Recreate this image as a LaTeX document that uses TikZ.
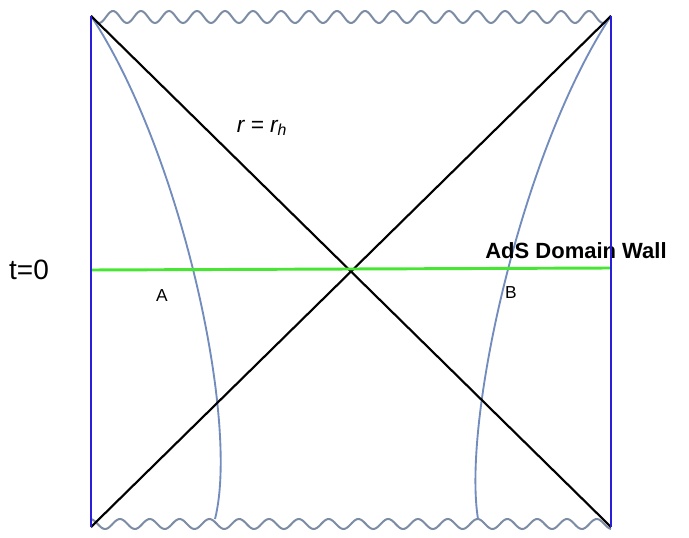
\documentclass[tikz,border=0pt]{standalone}
\usepackage{fontspec}
\setmainfont{Liberation Sans}
\usetikzlibrary{positioning}
\definecolor{wallblue}{RGB}{40,30,220}
\definecolor{slicegreen}{RGB}{70,230,50}
\definecolor{branegray}{RGB}{115,140,190}
\definecolor{wavegray}{RGB}{125,140,165}

\begin{document}
\begin{tikzpicture}[x=0.75pt, y=-0.75pt, every node/.style={inner sep=0pt}]
\tikzset{wall/.style={draw=wallblue, line width=2pt},
  horizon/.style={draw=black, line width=1.6pt},
  slice/.style={draw=slicegreen, line width=2.2pt},
  brane/.style={draw=branegray, line width=1.4pt},
  singular/.style={draw=wavegray, line width=1.5pt},
  lbl/.style={font=\fontsize{13}{15}\selectfont}}
\useasboundingbox (0,0) rectangle (689,538);
% corners of the diagram
\coordinate (tl) at (91,16);
\coordinate (tr) at (611,16);
\coordinate (bl) at (91,527);
\coordinate (br) at (611,527);
\coordinate (sl) at (91,270);
\coordinate (sr) at (611,268);
\coordinate (bA) at (215,519);
\coordinate (bB) at (478,519);
% singularities
\draw[singular] plot[domain=91:611, samples=300, smooth] (\x, {17-6*sin(12.857*(\x-113)+90)});
\draw[singular] plot[domain=91:611, samples=300, smooth] (\x, {524-5*sin(12.081*(\x-120)+90)});
% branes
\draw[brane] (tl) .. controls (180,150) and (240,420) .. (bA);
\draw[brane] (tr) .. controls (522,150) and (462,420) .. (bB);
% horizons
\draw[horizon] (tl) -- (br);
\draw[horizon] (bl) -- (tr);
\draw[slice] (sl) -- (sr);
\node[font=\fontsize{21}{24}\selectfont] (t0) at (29,270) {t=0};
\node[lbl] (A) at (162,296) {A};
\node[lbl] (B) at (511,293) {B};
\node[font=\fontsize{17}{20}\selectfont\itshape] (rh) at (262,128) {r = r\textsubscript{h}};
\node[font=\fontsize{16.5}{20}\selectfont\bfseries] (dw) at (576,251) {AdS Domain Wall};
% boundaries
\draw[wall] (tl) -- (bl);
\draw[wall] (tr) -- (br);
\end{tikzpicture}
\end{document}
